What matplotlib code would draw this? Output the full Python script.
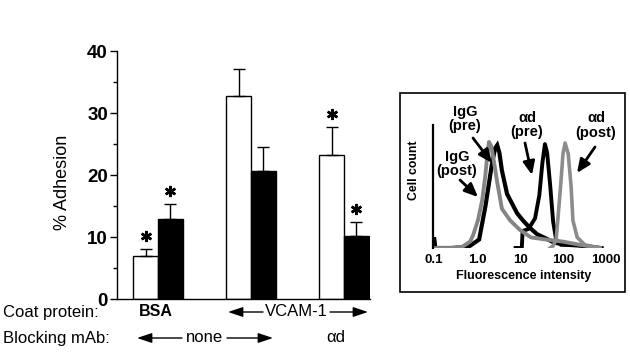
import numpy as np
import matplotlib as mpl
mpl.use("Agg")
import matplotlib.pyplot as plt
from matplotlib.patches import Rectangle

plt.rcParams['font.family'] = ['Liberation Sans', 'DejaVu Sans']

# bar chart data (white = first bar of group, black = second)
groups = ['BSA', 'VCAM-1', 'VCAM-1 + ad']
white_vals = [7.0, 32.7, 23.2]
white_err = [1.0, 4.4, 4.5]
black_vals = [12.9, 20.6, 10.1]
black_err = [2.5, 3.9, 2.3]
white_star = [True, False, True]
black_star = [True, False, True]
yticks = [0, 10, 20, 30, 40]

# flow cytometry histograms (fluorescence, cell count)
igg_post_x = [0.1, 0.25, 0.45, 0.69, 0.81, 1.05, 1.32, 1.55, 1.74, 1.9, 2.14, 2.51,
              2.95, 3.8, 5.9, 10, 18, 40, 100, 250, 710]
igg_post_y = [0, 0, 1, 6, 12, 26, 45, 67, 88, 100, 96, 80, 62, 37, 26, 17, 10, 8, 6, 3, 0]
igg_pre_x = [0.1, 0.1, 0.107, 0.25, 0.63, 1.12, 1.58, 2.24, 2.63, 2.95, 3.31, 3.8,
             5.0, 8.5, 11.7, 17, 25, 40, 63, 126, 316, 631]
igg_pre_y = [0, 10, 0, 0, 1, 8, 40, 80, 94, 97, 90, 73, 51, 33, 26, 19, 13, 9, 5, 3, 2, 0]
ad_pre_x = [7.9, 11.0, 11.5, 15.8, 22.4, 28.2, 33.1, 38.0, 42.7, 50.1, 58.9, 69.2,
            89.1, 200, 500, 794]
ad_pre_y = [0, 0, 16, 18, 28, 50, 80, 98, 90, 60, 25, 8, 3, 3, 1, 0]
ad_post_x = [50.1, 58.9, 69.2, 75.9, 89.1, 100, 112, 132, 155, 170, 214, 324, 724]
ad_post_y = [0, 2, 8, 27, 61, 89, 99, 89, 57, 26, 10, 3, 0]
flow_ticks = [0.1, 1.0, 10, 100, 1000]
flow_ticklabels = ['0.1', '1.0', '10', '100', '1000']

W, H = 630, 353
fig = plt.figure(figsize=(W / 100, H / 100), dpi=100)

def fp(x, y):
    # figure pixel coords measured from the top
    return (x, H - y)

# ---- main bar chart
ax = fig.add_axes([117 / W, 1 - 299 / H, 253 / W, 248 / H])
pos = np.arange(len(groups))
bw = 0.265
zeros = np.zeros(len(groups))
ax.bar(pos - bw / 2, white_vals, bw, color='white', edgecolor='black', linewidth=1.0)
ax.bar(pos + bw / 2, black_vals, bw, color='black', edgecolor='black', linewidth=1.0)
ax.errorbar(pos - bw / 2, white_vals, yerr=[zeros, white_err], fmt='none', ecolor='black',
            elinewidth=1.0, capsize=4.5, capthick=1.0)
ax.errorbar(pos + bw / 2, black_vals, yerr=[zeros, black_err], fmt='none', ecolor='black',
            elinewidth=1.0, capsize=4.5, capthick=1.0)
for i in range(len(groups)):
    if white_star[i]:
        ax.plot(pos[i] - bw / 2, white_vals[i] + white_err[i] + 2.1, marker=(6, 2, 0),
                ms=8, mew=1.8, color='black')
    if black_star[i]:
        ax.plot(pos[i] + bw / 2, black_vals[i] + black_err[i] + 2.1, marker=(6, 2, 0),
                ms=8, mew=1.8, color='black')
ax.set_xlim(-0.44, 2.28)
ax.set_ylim(0, 40)
ax.set_yticks(yticks)
ax.set_yticks([5, 15, 25, 35], minor=True)
ax.set_yticklabels([str(t) for t in yticks], fontsize=13.5, fontweight='bold')
ax.tick_params(axis='y', which='major', length=5, width=1.0, pad=1.5)
ax.tick_params(axis='y', which='minor', length=3, width=1.0)
ax.set_xticks([])
ax.spines['top'].set_visible(False)
ax.spines['right'].set_visible(False)
ax.spines['left'].set_linewidth(1.0)
ax.spines['bottom'].set_linewidth(1.0)
ax.set_ylabel('% Adhesion', fontsize=13)
ax.yaxis.set_label_coords(-0.18, 0.47)

# labels under the bars
fig.text(3 / W, 1 - 312 / H, 'Coat protein:', fontsize=12, va='center', ha='left')
fig.text(3 / W, 1 - 338 / H, 'Blocking mAb:', fontsize=12, va='center', ha='left')
fig.text(156 / W, 1 - 312 / H, 'BSA', fontsize=11.5, fontweight='bold', va='center', ha='center')
fig.text(296 / W, 1 - 312 / H, 'VCAM-1', fontsize=12, va='center', ha='center')
fig.text(204 / W, 1 - 338 / H, 'none', fontsize=12, va='center', ha='center')
fig.text(336 / W, 1 - 338 / H, 'αd', fontsize=12, va='center', ha='center')
small = dict(arrowstyle='-|>,head_length=0.9,head_width=0.3', lw=1.0, color='black',
             mutation_scale=10, shrinkA=0, shrinkB=0)
for tail, tip in [((263, 312), (228, 312)), ((330, 312), (368, 312)),
                  ((182, 338), (137, 338)), ((227, 338), (273, 338))]:
    ax.annotate('', xy=fp(*tip), xycoords='figure pixels', xytext=fp(*tail),
                textcoords='figure pixels', arrowprops=small, annotation_clip=False)

# ---- inset histogram
fig.add_artist(Rectangle((400 / W, 1 - 292 / H), 225 / W, 199 / H, transform=fig.transFigure,
                         fill=False, lw=1.2, edgecolor='black'))
ax2 = fig.add_axes([433 / W, 1 - 248 / H, 182 / W, 123 / H])
ax2.set_xscale('log')
ax2.plot(igg_pre_x, igg_pre_y, color='black', lw=3.0, solid_joinstyle='miter')
ax2.plot(ad_pre_x, ad_pre_y, color='black', lw=2.8)
ax2.plot(igg_post_x, igg_post_y, color='#858585', lw=2.8)
ax2.plot(ad_post_x, ad_post_y, color='#8c8c8c', lw=2.6)
ax2.set_xlim(10 ** (-1 - 1 / 43), 10 ** (3 + 9 / 43))
ax2.set_ylim(0, 116)
ax2.set_xticks(flow_ticks)
ax2.set_xticklabels(flow_ticklabels, fontsize=9.5, fontweight='bold')
ax2.minorticks_off()
ax2.set_yticks([])
ax2.tick_params(axis='x', length=0, pad=4)
for s in ['top', 'right', 'bottom']:
    ax2.spines[s].set_visible(False)
ax2.spines['left'].set_linewidth(1.6)
ax2.set_xlabel('Fluorescence intensity', fontsize=9, fontweight='bold', labelpad=3)
ax2.set_ylabel('Cell count', fontsize=8.8, fontweight='bold')
ax2.yaxis.set_label_coords(-0.071, 0.63)

lab = dict(fontsize=10.5, fontweight='bold', ha='center', va='center', linespacing=1.0)
fig.text(465 / W, 1 - 119.5 / H, 'IgG\n(pre)', **lab)
fig.text(457 / W, 1 - 163.5 / H, 'IgG\n(post)', **lab)
fig.text(527 / W, 1 - 125 / H, 'αd\n(pre)', **lab)
fig.text(596 / W, 1 - 125.5 / H, 'αd\n(post)', **lab)
big = dict(arrowstyle='-|>,head_length=0.8,head_width=0.35', lw=2.0, color='black',
           mutation_scale=10, shrinkA=0, shrinkB=0)
for tail, tip in [((473, 138), (492, 163)), ((460, 180), (478, 197)),
                  ((525, 143), (532, 175)), ((595, 147), (577, 173))]:
    ax2.annotate('', xy=fp(*tip), xycoords='figure pixels', xytext=fp(*tail),
                 textcoords='figure pixels', arrowprops=big, annotation_clip=False)

fig.savefig('out.png', dpi=100)
